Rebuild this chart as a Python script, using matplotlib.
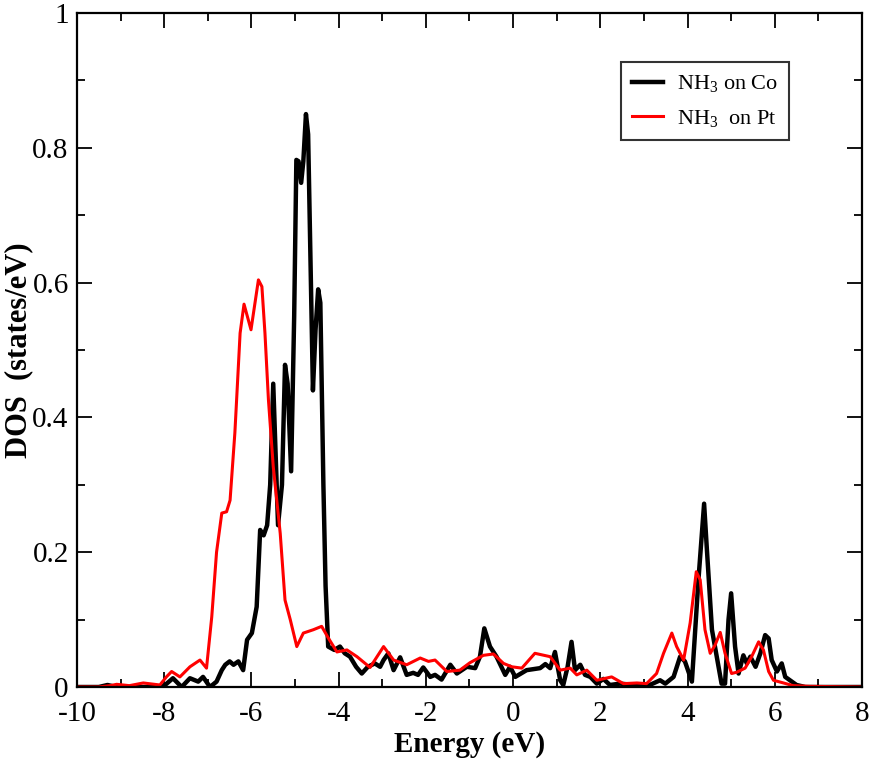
import matplotlib
matplotlib.use("Agg")
import matplotlib.pyplot as plt
from matplotlib.ticker import MultipleLocator

plt.rcParams['font.family'] = ['Liberation Serif', 'DejaVu Serif']
plt.rcParams['mathtext.fontset'] = 'custom'
plt.rcParams['mathtext.rm'] = 'Liberation Serif'
plt.rcParams['mathtext.it'] = 'Liberation Serif:italic'
plt.rcParams['mathtext.bf'] = 'Liberation Serif:bold'
plt.rcParams['axes.unicode_minus'] = False

co_energy = [-10, -9.5, -9.3, -9.1, -8.5, -8.1, -7.98, -7.8, -7.6, -7.41, -7.22, -7.11, -6.95, -6.8,
             -6.68, -6.6, -6.5, -6.41, -6.3, -6.19, -6.1, -5.99, -5.88, -5.8, -5.72, -5.64, -5.57,
             -5.5, -5.42, -5.39, -5.3, -5.23, -5.17, -5.09, -5.02, -4.97, -4.92, -4.86, -4.81, -4.75,
             -4.7, -4.65, -4.59, -4.53, -4.47, -4.42, -4.35, -4.3, -4.24, -4.1, -3.97, -3.86, -3.74,
             -3.6, -3.47, -3.33, -3.17, -3.05, -2.97, -2.86, -2.74, -2.59, -2.44, -2.29, -2.18, -2.06,
             -1.9, -1.79, -1.64, -1.44, -1.29, -1.06, -0.87, -0.76, -0.66, -0.53, -0.38, -0.18, -0.07,
             0.05, 0.31, 0.62, 0.74, 0.85, 0.96, 1.08, 1.15, 1.25, 1.34, 1.42, 1.54, 1.65, 1.77, 1.92,
             2.07, 2.22, 2.45, 2.8, 3.1, 3.37, 3.49, 3.68, 3.83, 3.94, 4.1, 4.25, 4.38, 4.44, 4.56,
             4.67, 4.78, 4.86, 4.94, 5.0, 5.09, 5.17, 5.28, 5.36, 5.44, 5.56, 5.67, 5.78, 5.86, 5.93,
             6.05, 6.16, 6.24, 6.35, 6.5, 6.7, 8]
co_dos = [0, 0, 0.003, 0, 0, 0, 0.003, 0.013, 0, 0.013, 0.008, 0.015, 0, 0.008,
          0.025, 0.033, 0.038, 0.033, 0.038, 0.025, 0.07, 0.08, 0.119, 0.233, 0.225, 0.24, 0.3,
          0.45, 0.3, 0.24, 0.3, 0.478, 0.45, 0.32, 0.55, 0.782, 0.78, 0.748, 0.78, 0.85,
          0.82, 0.65, 0.44, 0.53, 0.59, 0.57, 0.3, 0.15, 0.06, 0.055, 0.06, 0.05, 0.045,
          0.03, 0.02, 0.03, 0.035, 0.03, 0.04, 0.05, 0.025, 0.044, 0.018, 0.021, 0.018, 0.029,
          0.015, 0.018, 0.011, 0.033, 0.02, 0.03, 0.028, 0.045, 0.087, 0.06, 0.045, 0.018, 0.03,
          0.015, 0.025, 0.028, 0.034, 0.028, 0.052, 0.01, 0.003, 0.03, 0.067, 0.025, 0.033, 0.018, 0.015, 0.005,
          0.012, 0.003, 0.005, 0.003, 0.002, 0.01, 0.005, 0.015, 0.045, 0.038, 0.008, 0.159, 0.272, 0.208, 0.085,
          0.045, 0.005, 0.005, 0.1, 0.139, 0.06, 0.02, 0.047, 0.035, 0.045, 0.03, 0.05, 0.077, 0.072, 0.04,
          0.023, 0.035, 0.015, 0.01, 0.003, 0, 0]

pt_energy = [-10, -9.5, -9.24, -9.09, -8.8, -8.48, -8.1, -7.95, -7.83, -7.64, -7.41, -7.18, -7.03,
             -6.91, -6.8, -6.68, -6.57, -6.49, -6.38, -6.34, -6.26, -6.17, -6.01, -5.84, -5.76, -5.69,
             -5.61, -5.5, -5.34, -5.23, -5.11, -4.96, -4.81, -4.58, -4.39, -4.24, -4.04, -3.81, -3.58,
             -3.28, -2.97, -2.74, -2.44, -2.13, -1.94, -1.79, -1.52, -1.22, -0.99, -0.68, -0.45, -0.22,
             -0.03, 0.2, 0.5, 0.85, 1.08, 1.31, 1.46, 1.69, 1.92, 2.26, 2.53, 2.84, 3.06, 3.29, 3.45,
             3.64, 3.75, 3.91, 4.06, 4.2, 4.29, 4.4, 4.52, 4.63, 4.75, 4.86, 5.01, 5.13, 5.32, 5.47,
             5.63, 5.74, 5.86, 5.97, 6.2, 6.42, 6.8, 8]
pt_dos = [0, 0, 0.002, 0.004, 0.002, 0.006, 0.003, 0.015, 0.023, 0.015, 0.03, 0.04, 0.028,
          0.104, 0.2, 0.258, 0.26, 0.277, 0.377, 0.426, 0.525, 0.568, 0.53, 0.604, 0.594, 0.525,
          0.426, 0.327, 0.228, 0.129, 0.1, 0.06, 0.08, 0.085, 0.09, 0.073, 0.052, 0.055, 0.045,
          0.029, 0.06, 0.04, 0.033, 0.043, 0.038, 0.04, 0.023, 0.025, 0.036, 0.047, 0.049, 0.035,
          0.03, 0.028, 0.05, 0.045, 0.025, 0.028, 0.018, 0.025, 0.01, 0.015, 0.005, 0.006, 0.005, 0.02, 0.05,
          0.08, 0.06, 0.04, 0.095, 0.171, 0.159, 0.085, 0.05, 0.062, 0.081, 0.05, 0.02, 0.022, 0.028, 0.045,
          0.067, 0.055, 0.023, 0.01, 0.006, 0.002, 0.001, 0]

x_ticks = [-10, -8, -6, -4, -2, 0, 2, 4, 6, 8]
y_ticks = [0, 0.2, 0.4, 0.6, 0.8, 1]
y_tick_labels = ['0', '0.2', '0.4', '0.6', '0.8', '1']

fig = plt.figure(figsize=(8.72, 7.63), dpi=100)
ax = fig.add_axes([0.0883, 0.0996, 0.9002, 0.8834])

ax.plot(co_energy, co_dos, color='black', lw=3.2, label='NH$_3$ on Co')
ax.plot(pt_energy, pt_dos, color='#ff0000', lw=2.2, label='NH$_3$  on Pt')

ax.set_xlim(-10, 8)
ax.set_ylim(0, 1)
ax.set_xticks(x_ticks)
ax.set_yticks(y_ticks)
ax.set_yticklabels(y_tick_labels)
ax.xaxis.set_minor_locator(MultipleLocator(1))
ax.yaxis.set_minor_locator(MultipleLocator(0.1))
ax.tick_params(which='both', direction='in', top=True, right=True, width=1.3)
ax.tick_params(which='major', length=11, labelsize=21)
ax.tick_params(which='minor', length=6)
ax.tick_params(axis='x', which='major', pad=10)
ax.tick_params(axis='y', which='major', pad=6)
for s in ax.spines.values():
    s.set_linewidth(1.6)

ax.set_xlabel('Energy (eV)', fontsize=21, fontweight='bold', labelpad=3)
ax.set_ylabel('DOS  (states/eV)', fontsize=22, fontweight='bold')
ax.yaxis.set_label_coords(-0.056, 0.5)

leg = ax.legend(loc='upper right', bbox_to_anchor=(0.907, 0.927), fontsize=16,
                frameon=True, fancybox=False, edgecolor='black', handlelength=1.4,
                handletextpad=0.6, borderpad=0.5, labelspacing=0.6, borderaxespad=0)
leg.get_frame().set_linewidth(1.5)

fig.savefig('out.png', dpi=100)
